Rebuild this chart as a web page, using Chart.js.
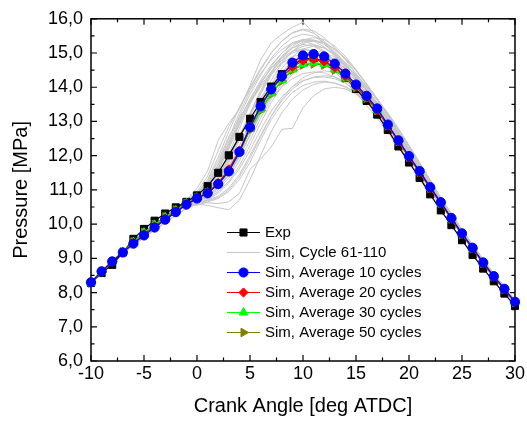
<!DOCTYPE html>
<html><head><meta charset="utf-8">
<script src="https://cdn.jsdelivr.net/npm/chart.js@4/dist/chart.umd.min.js"></script>
<style>html,body{margin:0;padding:0;background:#fff;}#wrap{width:527px;height:423px;}</style>
</head><body><div id="wrap"><canvas id="c" width="527" height="423"></canvas></div>
<script>
const angles = [-10,-9,-8,-7,-6,-5,-4,-3,-2,-1,0,1,2,3,4,5,6,7,8,9,10,11,12,13,14,15,16,17,18,19,20,21,22,23,24,25,26,27,28,29,30];
const xTickValues = [-10,-5,0,5,10,15,20,25,30];
const yTickValues = [6,7,8,9,10,11,12,13,14,15,16];

const expP = [8.28,8.57,8.81,9.17,9.57,9.86,10.10,10.31,10.49,10.65,10.84,11.11,11.50,12.01,12.55,13.08,13.57,14.02,14.38,14.65,14.82,14.85,14.75,14.55,14.28,13.95,13.60,13.20,12.75,12.27,11.80,11.35,10.87,10.40,9.97,9.53,9.10,8.70,8.33,7.97,7.61];
const avg10 = [8.30,8.62,8.91,9.17,9.43,9.67,9.90,10.13,10.35,10.57,10.75,10.90,11.17,11.54,12.11,12.83,13.44,13.94,14.32,14.72,14.93,14.97,14.90,14.69,14.40,14.08,13.75,13.38,12.91,12.45,11.99,11.55,11.08,10.64,10.18,9.73,9.31,8.88,8.48,8.11,7.73];
const avg20 = [8.29,8.61,8.90,9.18,9.45,9.70,9.93,10.16,10.37,10.58,10.76,10.92,11.20,11.60,12.15,12.85,13.45,13.93,14.28,14.60,14.78,14.82,14.75,14.58,14.32,14.02,13.70,13.33,12.88,12.42,11.96,11.52,11.05,10.62,10.16,9.71,9.29,8.86,8.46,8.09,7.71];
const avg30 = [8.28,8.60,8.90,9.19,9.48,9.75,9.98,10.20,10.40,10.60,10.77,10.92,11.18,11.56,12.10,12.78,13.35,13.82,14.20,14.52,14.68,14.72,14.68,14.52,14.28,14.00,13.69,13.33,12.89,12.43,11.97,11.53,11.06,10.62,10.16,9.71,9.29,8.87,8.47,8.10,7.72];
const avg50 = [8.28,8.60,8.90,9.19,9.48,9.76,9.99,10.21,10.41,10.60,10.77,10.92,11.17,11.55,12.08,12.75,13.32,13.80,14.18,14.50,14.65,14.68,14.65,14.50,14.27,13.99,13.68,13.32,12.88,12.42,11.96,11.52,11.05,10.61,10.15,9.70,9.28,8.86,8.46,8.09,7.71];

const cycA = [8.32,8.64,8.94,9.22,9.48,9.74,9.98,10.22,10.45,10.70, 11.05,11.55,12.45,12.95,13.35,14.05,14.8,15.3,15.55,15.75,15.9,15.6,15.3,14.95,14.6,14.2,13.8,13.35,12.88,12.4,11.93,11.48,11.0, 10.57,10.12,9.68,9.26,8.84,8.44,8.07,7.69];
const cycB = [8.30,8.63,8.93,9.20,9.46,9.71,9.95,10.18,10.41,10.65, 10.9,11.3,11.95,12.7,13.4,14.0,14.55,15.0,15.35,15.6,15.7,15.65,15.45,15.15,14.8,14.4,13.98,13.52,13.05,12.57,12.08,11.6,11.12, 10.64,10.18,9.73,9.31,8.88,8.48,8.11,7.73];
const cycC = [8.31,8.62,8.92,9.19,9.45,9.70,9.93,10.16,10.38,10.60, 10.85,11.2,11.7,12.4,13.15,13.8,14.35,14.85,15.2,15.45,15.55,15.5,15.3,15.0,14.65,14.3,13.9,13.45,12.98,12.5,12.02,11.56,11.08, 10.64,10.18,9.73,9.31,8.88,8.48,8.11,7.73];
const cycD = [8.28,8.60,8.90,9.16,9.42,9.66,9.89,10.12,10.34,10.55, 10.8,11.05,11.45,12.05,12.8,13.5,14.1,14.6,15.0,15.3,15.4,15.38,15.25,15.0,14.68,14.32,13.92,13.5,13.04,12.56,12.07,11.6,11.12, 10.70,10.24,9.79,9.36,8.93,8.52,8.14,7.76];
const cycE = [8.27,8.58,8.87,9.13,9.38,9.61,9.83,10.05,10.26,10.46, 10.75,10.95,11.3,11.8,12.45,13.15,13.8,14.35,14.75,15.05,15.2,15.25,15.15,14.95,14.65,14.32,13.95,13.55,13.1,12.62,12.13,11.65,11.16, 10.70,10.24,9.79,9.36,8.93,8.52,8.14,7.76];
const cycF = [8.32,8.64,8.94,9.22,9.48,9.74,9.98,10.22,10.45,10.70, 10.9,11.25,11.85,12.55,13.1,13.6,14.05,14.45,14.8,15.0,15.1,15.05,14.9,14.68,14.4,14.08,13.72,13.33,12.9,12.45,11.98,11.52,11.05, 10.57,10.12,9.68,9.26,8.84,8.44,8.07,7.69];
const cycG = [8.28,8.60,8.90,9.16,9.42,9.66,9.89,10.12,10.34,10.55, 10.7,10.88,11.15,11.55,12.1,12.8,13.45,14.0,14.45,14.78,14.97,15.0,14.95,14.8,14.55,14.25,13.9,13.5,13.05,12.58,12.1,11.62,11.14, 10.70,10.24,9.79,9.36,8.93,8.52,8.14,7.76];
const cycH = [8.31,8.62,8.92,9.19,9.45,9.70,9.93,10.16,10.38,10.60, 10.78,11.0,11.4,11.95,12.6,13.2,13.7,14.1,14.45,14.7,14.82,14.85,14.78,14.6,14.35,14.05,13.72,13.35,12.92,12.47,12.0,11.55,11.08, 10.64,10.18,9.73,9.31,8.88,8.48,8.11,7.73];
const cycI = [8.27,8.58,8.87,9.13,9.38,9.61,9.83,10.05,10.26,10.46, 10.65,10.8,11.0,11.35,11.85,12.45,13.1,13.65,14.1,14.42,14.6,14.68,14.7,14.62,14.45,14.2,13.9,13.53,13.1,12.64,12.15,11.67,11.18, 10.70,10.24,9.79,9.36,8.93,8.52,8.14,7.76];
const cycJ = [8.30,8.63,8.93,9.20,9.46,9.71,9.95,10.18,10.41,10.65, 10.72,10.92,11.25,11.7,12.3,12.95,13.6,14.2,14.7,15.05,15.28,15.35,15.3,15.12,14.85,14.5,14.1,13.67,13.2,12.7,12.2,11.7,11.2, 10.70,10.24,9.79,9.36,8.93,8.52,8.14,7.76];
const cycK = [8.32,8.64,8.94,9.22,9.48,9.74,9.98,10.22,10.45,10.70, 10.82,11.1,11.6,12.25,12.95,13.55,14.0,14.4,14.7,14.9,14.95,14.88,14.7,14.45,14.15,13.82,13.47,13.1,12.68,12.25,11.8,11.37,10.92, 10.57,10.12,9.68,9.26,8.84,8.44,8.07,7.69];
const cycL = [8.31,8.62,8.92,9.19,9.45,9.70,9.93,10.16,10.38,10.60, 10.7,10.9,11.2,11.65,12.2,12.75,13.25,13.7,14.0,14.25,14.4,14.45,14.42,14.3,14.12,13.88,13.6,13.27,12.88,12.45,12.0,11.55,11.08, 10.64,10.18,9.73,9.31,8.88,8.48,8.11,7.73];
const cycM = [8.28,8.60,8.90,9.16,9.42,9.66,9.89,10.12,10.34,10.55, 10.6,10.72,10.9,11.2,11.62,12.15,12.75,13.3,13.72,14.02,14.2,14.28,14.3,14.25,14.12,13.92,13.66,13.35,12.98,12.56,12.1,11.64,11.16, 10.70,10.24,9.79,9.36,8.93,8.52,8.14,7.76];
const cycN = [8.27,8.58,8.87,9.13,9.38,9.61,9.83,10.05,10.26,10.46, 10.62,10.62,10.6,10.65,10.9,11.6,11.9,12.25,12.77,12.8,13.4,13.75,13.95,14.0,13.95,13.8,13.58,13.3,12.95,12.55,12.1,11.64,11.16, 10.70,10.24,9.79,9.36,8.93,8.52,8.14,7.76];
const cycO = [8.30,8.63,8.93,9.20,9.46,9.71,9.95,10.18,10.41,10.65, 10.55,10.65,10.75,10.95,11.3,11.8,12.45,13.05,13.5,13.85,14.05,14.15,14.18,14.12,14.0,13.82,13.58,13.28,12.93,12.52,12.07,11.62,11.14, 10.70,10.24,9.79,9.36,8.93,8.52,8.14,7.76];
const cycP = [8.27,8.58,8.87,9.13,9.38,9.61,9.83,10.05,10.26,10.46, 10.58,10.55,10.48,10.42,10.7,11.3,12.0,12.7,13.25,13.65,13.92,14.08,14.15,14.12,14.02,13.85,13.62,13.33,12.98,12.58,12.13,11.67,11.18, 10.70,10.24,9.79,9.36,8.93,8.52,8.14,7.76];
const cycQ = [8.31,8.62,8.92,9.19,9.45,9.70,9.93,10.16,10.38,10.60, 10.76,11.0,11.38,11.9,12.55,13.25,13.9,14.45,14.9,15.2,15.38,15.45,15.4,15.2,14.9,14.52,14.1,13.65,13.17,12.68,12.18,11.68,11.18, 10.70,10.24,9.79,9.36,8.93,8.52,8.14,7.76];
const cycR = [8.28,8.60,8.90,9.16,9.42,9.66,9.89,10.12,10.34,10.55, 10.68,10.85,11.1,11.5,12.0,12.6,13.2,13.75,14.2,14.55,14.78,14.9,14.9,14.78,14.55,14.27,13.93,13.55,13.12,12.66,12.17,11.68,11.18, 10.70,10.24,9.79,9.36,8.93,8.52,8.14,7.76];
const cycS = [8.32,8.64,8.94,9.22,9.48,9.74,9.98,10.22,10.45,10.70, 10.88,11.2,11.75,12.5,13.25,13.9,14.4,14.8,15.1,15.3,15.35,15.25,15.05,14.78,14.45,14.08,13.68,13.25,12.8,12.33,11.86,11.4,10.94, 10.57,10.12,9.68,9.26,8.84,8.44,8.07,7.69];
const cycT = [8.28,8.60,8.90,9.16,9.42,9.66,9.89,10.12,10.34,10.55, 10.74,10.95,11.32,11.85,12.5,13.2,13.85,14.4,14.85,15.15,15.32,15.38,15.3,15.1,14.82,14.48,14.08,13.65,13.18,12.69,12.19,11.69,11.19, 10.70,10.24,9.79,9.36,8.93,8.52,8.14,7.76];
const cycU = [8.31,8.62,8.92,9.19,9.45,9.70,9.93,10.16,10.38,10.60, 10.8,11.08,11.55,12.2,12.9,13.55,14.1,14.55,14.9,15.15,15.25,15.2,15.02,14.76,14.45,14.1,13.72,13.31,12.87,12.41,11.94,11.49,11.02, 10.64,10.18,9.73,9.31,8.88,8.48,8.11,7.73];
const cycV = [8.27,8.58,8.87,9.13,9.38,9.61,9.83,10.05,10.26,10.46, 10.66,10.82,11.05,11.42,11.95,12.6,13.25,13.85,14.3,14.62,14.82,14.92,14.92,14.82,14.62,14.35,14.03,13.66,13.24,12.77,12.27,11.76,11.25, 10.76,10.29,9.83,9.40,8.96,8.55,8.17,7.78];
const cycW = [8.32,8.64,8.94,9.22,9.48,9.74,9.98,10.22,10.45,10.70, 10.95,11.4,12.15,12.85,13.4,13.95,14.5,15.0,15.35,15.58,15.68,15.58,15.35,15.05,14.7,14.3,13.88,13.43,12.96,12.48,12.0,11.53,11.05, 10.64,10.18,9.73,9.31,8.88,8.48,8.11,7.73];
const cycX = [8.30,8.63,8.93,9.20,9.46,9.71,9.95,10.18,10.41,10.65, 10.68,10.84,11.08,11.45,11.98,12.62,13.3,13.9,14.38,14.72,14.95,15.05,15.02,14.88,14.65,14.36,14.02,13.64,13.22,12.76,12.27,11.77,11.26, 10.76,10.29,9.83,9.40,8.96,8.55,8.17,7.78];
const cycY = [8.31,8.62,8.92,9.19,9.45,9.70,9.93,10.16,10.38,10.60, 10.62,10.7,10.82,11.05,11.45,12.0,12.6,13.15,13.6,13.95,14.18,14.3,14.34,14.3,14.18,13.98,13.73,13.42,13.05,12.64,12.18,11.71,11.22, 10.74,10.27,9.81,9.38,8.95,8.54,8.16,7.77];
const cycZ = [8.28,8.60,8.90,9.16,9.42,9.66,9.89,10.12,10.34,10.55, 10.72,10.9,11.2,11.62,12.18,12.85,13.5,14.08,14.55,14.9,15.12,15.2,15.15,14.98,14.72,14.4,14.03,13.62,13.17,12.69,12.2,11.71,11.21, 10.70,10.24,9.79,9.36,8.93,8.52,8.14,7.76];
const cycAA = [8.32,8.64,8.94,9.22,9.48,9.74,9.98,10.22,10.45,10.70, 10.86,11.15,11.62,12.3,13.0,13.65,14.2,14.65,15.0,15.25,15.38,15.35,15.18,14.92,14.6,14.23,13.83,13.4,12.94,12.46,11.98,11.51,11.04, 10.57,10.12,9.68,9.26,8.84,8.44,8.07,7.69];
const cycAB = [8.27,8.58,8.87,9.13,9.38,9.61,9.83,10.05,10.26,10.46, 10.6,10.68,10.78,11.0,11.38,11.92,12.55,13.15,13.65,14.02,14.28,14.42,14.48,14.44,14.3,14.08,13.8,13.47,13.08,12.65,12.19,11.72,11.23, 10.76,10.29,9.83,9.40,8.96,8.55,8.17,7.78];
const cycAC = [8.30,8.63,8.93,9.20,9.46,9.71,9.95,10.18,10.41,10.65, 10.7,10.88,11.18,11.6,12.15,12.75,13.35,13.9,14.35,14.68,14.88,14.96,14.93,14.78,14.55,14.25,13.9,13.5,13.06,12.59,12.1,11.62,11.14, 10.64,10.18,9.73,9.31,8.88,8.48,8.11,7.73];
const cycAD = [8.31,8.62,8.92,9.19,9.45,9.70,9.93,10.16,10.38,10.60, 10.84,11.15,11.65,12.35,13.05,13.65,14.15,14.55,14.85,15.05,15.12,15.05,14.88,14.62,14.3,13.95,13.58,13.18,12.75,12.3,11.84,11.39,10.93, 10.57,10.12,9.68,9.26,8.84,8.44,8.07,7.69];
const cycAE = [8.28,8.60,8.90,9.16,9.42,9.66,9.89,10.12,10.34,10.55, 10.64,10.76,10.95,11.25,11.7,12.3,12.95,13.55,14.02,14.38,14.62,14.75,14.78,14.72,14.55,14.3,14.0,13.65,13.25,12.8,12.31,11.81,11.3, 10.78,10.31,9.85,9.41,8.97,8.56,8.18,7.79];
const simCycles = [cycA,cycB,cycC,cycD,cycE,cycF,cycG,cycH,cycI,cycJ,cycK,cycL,cycM,cycN,cycO,cycP,cycQ,cycR,cycS,cycT,cycU,cycV,cycW,cycX,cycY,cycZ,cycAA,cycAB,cycAC,cycAD,cycAE];

const FONT = "'Liberation Sans', Arial, sans-serif";
const pts = arr => arr.map((v,i)=>({x:angles[i], y:v}));
const fmtY = v => v.toFixed(1).replace('.', ',');

const mainSets = [
  {label:'Sim, Average 10 cycles', data:pts(avg10), borderColor:'#0000ff', backgroundColor:'#0000ff', pointStyle:'circle', pointRadius:4.6, pointRotation:0, borderWidth:1.2, pointBorderWidth:1},
  {label:'Sim, Average 20 cycles', data:pts(avg20), borderColor:'#ff0000', backgroundColor:'#ff0000', pointStyle:'rectRot', pointRadius:4.6, pointRotation:0, borderWidth:1.2, pointBorderWidth:1},
  {label:'Sim, Average 30 cycles', data:pts(avg30), borderColor:'#00ff00', backgroundColor:'#00ff00', pointStyle:'triangle', pointRadius:5, pointRotation:0, borderWidth:1.2, pointBorderWidth:1},
  {label:'Sim, Average 50 cycles', data:pts(avg50), borderColor:'#808000', backgroundColor:'#808000', pointStyle:'triangle', pointRadius:5, pointRotation:90, borderWidth:1.2, pointBorderWidth:1},
  {label:'Exp', data:pts(expP), borderColor:'#000000', backgroundColor:'#000000', pointStyle:'rect', pointRadius:5, pointRotation:0, borderWidth:1.2, pointBorderWidth:1}
];
const graySets = simCycles.map((c,i)=>({label: i===0?'Sim, Cycle 61-110':'', data:pts(c), borderColor:'#c6c6c6', borderWidth:1, pointRadius:0, pointHoverRadius:0}));
const datasets = mainSets.map(d=>Object.assign({clip:false, tension:0, fill:false}, d)).concat(graySets.map(d=>Object.assign({tension:0, fill:false}, d)));

const legendOrder = [
  {ds: mainSets[4]},
  {ds: graySets[0], lineOnly:true},
  {ds: mainSets[0]}, {ds: mainSets[1]}, {ds: mainSets[2]}, {ds: mainSets[3]}
];

const framePlugin = {
  id:'frame',
  beforeDatasetsDraw(chart){
    const {ctx, chartArea:a, scales:{x, y}} = chart;
    ctx.save();
    ctx.strokeStyle = '#000'; ctx.lineWidth = 1.5;
    ctx.strokeRect(a.left, a.top, a.right-a.left, a.bottom-a.top);
    ctx.lineWidth = 1.2;
    ctx.beginPath();
    for (let v=-10; v<=30.001; v+=2.5){
      const px = x.getPixelForValue(v);
      const L = (Math.abs(v % 5) < 1e-6) ? 6 : 3.5;
      ctx.moveTo(px, a.bottom); ctx.lineTo(px, a.bottom - L);
      ctx.moveTo(px, a.top); ctx.lineTo(px, a.top + L);
    }
    for (let v=6; v<=16.001; v+=0.5){
      const py = y.getPixelForValue(v);
      const L = (Math.abs(v - Math.round(v)) < 1e-6) ? 6 : 3.5;
      ctx.moveTo(a.left, py); ctx.lineTo(a.left + L, py);
      ctx.moveTo(a.right, py); ctx.lineTo(a.right - L, py);
    }
    ctx.stroke();
    ctx.restore();
  },
  afterDraw(chart){
    const ctx = chart.ctx;
    ctx.save();
    const x0 = 227, x1 = 260, tx = 265;
    let yy = 232.5;
    legendOrder.forEach(item=>{
      const d = item.ds;
      ctx.strokeStyle = d.borderColor; ctx.lineWidth = item.lineOnly ? 1 : 1.2;
      ctx.beginPath(); ctx.moveTo(x0, yy); ctx.lineTo(x1, yy); ctx.stroke();
      if (!item.lineOnly){
        ctx.fillStyle = d.backgroundColor; ctx.strokeStyle = d.borderColor; ctx.lineWidth = 1;
        Chart.helpers.drawPoint(ctx, {pointStyle:d.pointStyle, radius:d.pointRadius, rotation:d.pointRotation, borderWidth:1}, (x0+x1)/2, yy);
      }
      ctx.fillStyle = '#000'; ctx.font = "15px " + FONT; ctx.textBaseline = 'middle'; ctx.textAlign = 'left';
      ctx.fillText(d.label, tx, yy+0.5);
      yy += 20;
    });
    ctx.restore();
  }
};

new Chart(document.getElementById('c'), {
  type:'line',
  data:{datasets},
  options:{
    responsive:false, animation:false, devicePixelRatio:1,
    layout:{padding:{left:0, right:9, top:15, bottom:0}},
    plugins:{legend:{display:false}, tooltip:{enabled:false}},
    elements:{line:{borderJoinStyle:'round'}},
    scales:{
      x:{type:'linear', min:-10, max:30,
        afterBuildTicks: s => { s.ticks = xTickValues.map(v=>({value:v})); },
        afterFit: s => { s.height = 62; },
        grid:{display:false, drawTicks:false}, border:{display:false},
        ticks:{font:{family:FONT, size:18}, color:'#000', padding:2, maxRotation:0, autoSkip:false},
        title:{display:true, text:'Crank Angle [deg ATDC]', color:'#000', font:{family:FONT, size:20, lineHeight:1}, padding:{top:0, bottom:7}}
      },
      y:{type:'linear', min:6, max:16,
        afterBuildTicks: s => { s.ticks = yTickValues.map(v=>({value:v})); },
        afterFit: s => { s.width = 91; },
        grid:{display:false, drawTicks:false}, border:{display:false},
        ticks:{font:{family:FONT, size:18}, color:'#000', padding:8, callback: v => fmtY(v)},
        title:{display:true, text:'Pressure [MPa]', color:'#000', font:{family:FONT, size:20, lineHeight:1}, padding:{top:11, bottom:0}}
      }
    }
  },
  plugins:[framePlugin]
});
</script>
</body></html>
